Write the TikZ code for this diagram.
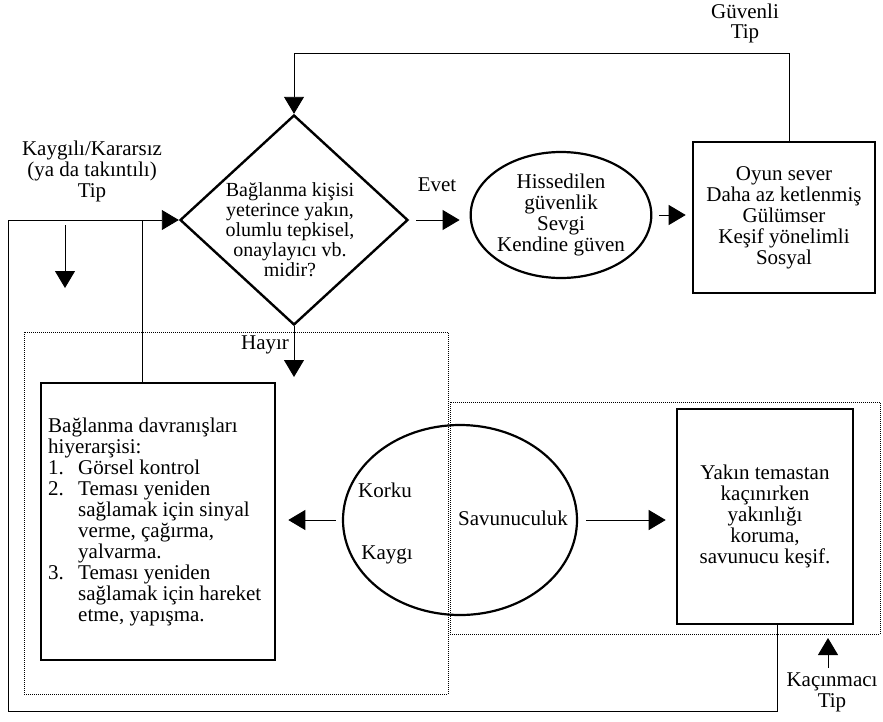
\documentclass[tikz,border=0pt]{standalone}
\usepackage{fontspec}
\setmainfont{Liberation Serif}
\usetikzlibrary{arrows.meta,shapes.geometric}
\begin{document}
\begin{tikzpicture}[x=1pt,y=-1pt,
  txt/.style={font=\fontsize{21}{21}\selectfont, align=center, inner sep=0pt},
  dtxt/.style={font=\fontsize{20}{20}\selectfont, align=center, inner sep=0pt},
  conn/.style={line width=0.9pt},
  arr/.style={conn,-{Triangle[length=17pt,width=20pt]}},
  thickbox/.style={draw, line width=2.6pt, inner sep=0pt},
  oval/.style={draw, ellipse, line width=2.2pt, inner sep=0pt},
  dotbox/.style={densely dotted, line width=1pt}
]
\useasboundingbox (0,0) rectangle (883,721);

% dotted frames
\draw[dotbox] (24,332) rectangle (448,694);
\draw[dotbox] (450,402) rectangle (880,634);

% decision
\node[draw, diamond, line width=2.4pt, minimum width=228pt, minimum height=210pt, inner sep=0pt] (q) at (294,220) {};
\node[dtxt] (qt) at (290,230) {Bağlanma kişisi\\yeterince yakın,\\olumlu tepkisel,\\onaylayıcı vb.\\midir?};

% secure branch
\node[oval, minimum width=163pt, minimum height=126pt, txt] (sec) at (561,215) {Hissedilen\\güvenlik\\Sevgi\\Kendine güven};
\node[thickbox, txt, minimum width=182pt, minimum height=151pt] (oyun) at (784,217.5) {Oyun sever\\Daha az ketlenmiş\\Gülümser\\Keşif yönelimli\\Sosyal};
\node[txt] (evet) at (437,185) {Evet};
\node[txt, font=\fontsize{21}{20}\selectfont] (guv) at (745,23) {Güvenli\\Tip};

\coordinate (tl) at (294,53);
\draw[arr] ([xshift=5pt]oyun.north) |- (tl) -- (q.north);
\draw[arr, shorten <=7pt, shorten >=10pt] (q.east) -- (q.east -| sec.west);
\draw[arr, shorten <=7pt, shorten >=6pt] (sec.east) -- (sec.east -| oyun.west);

% no branch
\node[txt] (hayir) at (265,345) {Hayır};
\coordinate (hend) at (294,377);
\draw[arr] (q.south) -- (hend);

\node[thickbox, minimum width=234pt, minimum height=277pt] (bag) at (158,521.5) {};
\node[txt, align=left, anchor=west] (bagt) at (48,522) {Bağlanma davranışları\\
hiyerarşisi:\\
\makebox[30pt][l]{1.}Görsel kontrol\\
\makebox[30pt][l]{2.}Teması yeniden\\
\hspace*{30pt}sağlamak için sinyal\\
\hspace*{30pt}verme, çağırma,\\
\hspace*{30pt}yalvarma.\\
\makebox[30pt][l]{3.}Teması yeniden\\
\hspace*{30pt}sağlamak için hareket\\
\hspace*{30pt}etme, yapışma.};

\node[oval, minimum width=234pt, minimum height=190pt] (fear) at (460,520) {};
\node[txt] (korku) at (385,490) {Korku};
\node[txt] (kaygi) at (387,555) {Kaygı};
\node[txt] (savun) at (513,518) {Savunuculuk};

\node[thickbox, txt, minimum width=176pt, minimum height=215pt] (yak) at (765,516.5) {Yakın temastan\\kaçınırken\\yakınlığı\\koruma,\\savunucu keşif.};

\draw[arr, shorten <=6pt, shorten >=12pt] (fear.west) -- (fear.west -| bag.east);
\draw[arr, shorten <=8pt, shorten >=10pt] (fear.east) -- (fear.east -| yak.west);

% anxious loop
\node[txt] (kay) at (92,171) {Kaygılı/Kararsız\\(ya da takıntılı)\\Tip};
\coordinate (tlft) at (8,220);
\coordinate (bl) at (8,711);
\draw[conn] ([xshift=-16pt]bag.north) -- ([xshift=-16pt]bag.north |- tlft);
\coordinate (da1) at (65,225);
\coordinate (da2) at (65,288);
\draw[arr] (da1) -- (da2);

% avoidant loop
\draw[arr] ([xshift=12pt]yak.south) |- (bl) -- (tlft) -- (q.west);
\node[txt, font=\fontsize{21}{21}\selectfont] (kac) at (832,692) {Kaçınmacı\\Tip};
\coordinate (ka1) at (828,668);
\coordinate (ka2) at (828,638);
\draw[arr] (ka1) -- (ka2);
\end{tikzpicture}
\end{document}
